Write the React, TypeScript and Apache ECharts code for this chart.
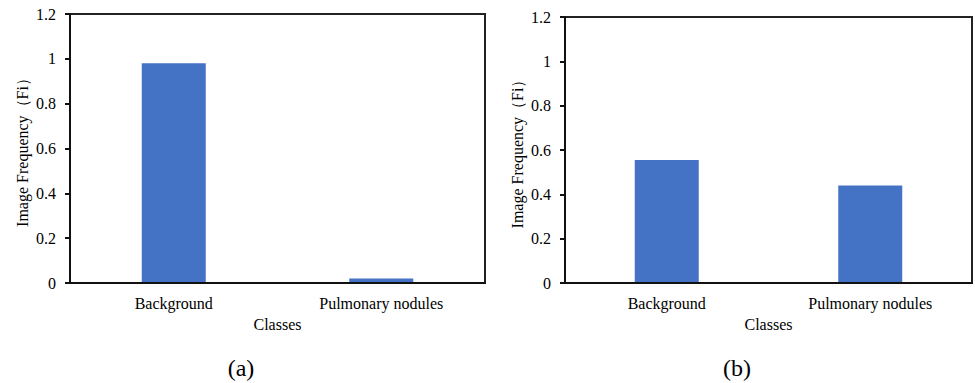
import React, { useEffect, useRef } from "react";
import * as echarts from "echarts";

const categories = ["Background", "Pulmonary nodules"];
const valuesA = [0.98, 0.02];
const valuesB = [0.555, 0.44];
const yTicks = { min: 0, max: 1.2, interval: 0.2 };
const yTitle = "Image Frequency（Fi）";
const xTitle = "Classes";
const captions = ["(a)", "(b)"];

const FONT = "Liberation Serif";
const TXT = "#000";

export default function App() {
  const ref = useRef<HTMLDivElement>(null);
  useEffect(() => {
    if (!ref.current) return;
    const chart = echarts.init(ref.current, undefined, { renderer: "svg" });
    const grids = [
      { left: 70, top: 14, width: 415, height: 269 },
      { left: 565, top: 17, width: 407, height: 266 },
    ];
    const xAxis = grids.map((_, i) => ({
      type: "category" as const,
      gridIndex: i,
      data: categories,
      z: 5,
      name: xTitle,
      nameLocation: "middle" as const,
      nameGap: 33,
      nameTextStyle: { fontFamily: FONT, fontSize: 16, color: TXT },
      axisLine: { lineStyle: { color: "#111", width: 2 } },
      axisTick: { alignWithLabel: true, inside: true, length: 4, lineStyle: { color: "#111", width: 2 } },
      axisLabel: { fontFamily: FONT, fontSize: 16, color: TXT, margin: 12 },
    }));
    const yAxis = grids.map((_, i) => ({
      type: "value" as const,
      gridIndex: i,
      min: yTicks.min,
      max: yTicks.max,
      interval: yTicks.interval,
      z: 5,
      name: yTitle,
      nameLocation: "middle" as const,
      nameGap: 40,
      nameRotate: 90,
      nameTextStyle: { fontFamily: FONT, fontSize: 16, color: TXT },
      axisLine: { show: true, lineStyle: { color: "#111", width: 2 } },
      axisTick: { show: true, length: 5, lineStyle: { color: "#111", width: 2 } },
      axisLabel: { fontFamily: FONT, fontSize: 16, color: TXT, margin: 14 },
      splitLine: { show: false },
    }));
    chart.setOption({
      animation: false,
      backgroundColor: "#fff",
      textStyle: { fontFamily: FONT },
      grid: grids.map((g) => ({ ...g, show: true, borderColor: "#222", borderWidth: 2, backgroundColor: "transparent" })),
      xAxis,
      yAxis,
      series: [valuesA, valuesB].map((vals, i) => ({
        type: "bar",
        xAxisIndex: i,
        yAxisIndex: i,
        data: vals,
        barWidth: 64,
        itemStyle: { color: "#4472C4" },
        z: 1,
      })),
      graphic: [
        { type: "text", x: 241, y: 368, style: { text: captions[0], fontFamily: FONT, fontSize: 24, fill: TXT, textAlign: "center", textVerticalAlign: "middle" } },
        { type: "text", x: 737, y: 368, style: { text: captions[1], fontFamily: FONT, fontSize: 24, fill: TXT, textAlign: "center", textVerticalAlign: "middle" } },
      ],
    });
    return () => chart.dispose();
  }, []);
  return <div ref={ref} style={{ position: "fixed", left: 0, top: 0, width: 975, height: 383 }} />;
}
